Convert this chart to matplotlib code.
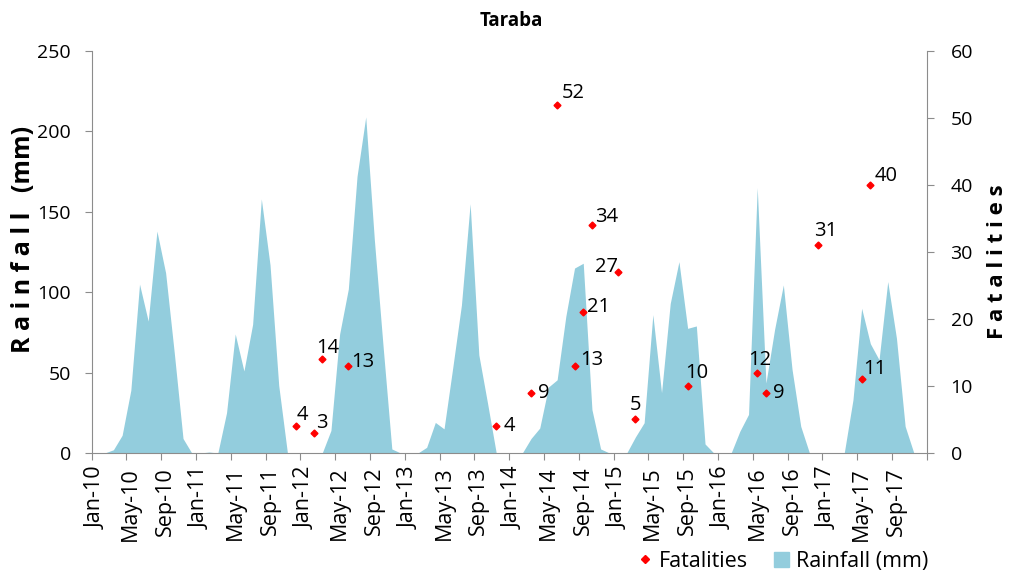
import matplotlib
matplotlib.use("Agg")
import matplotlib.pyplot as plt
from matplotlib.lines import Line2D
from matplotlib.patches import Patch
import numpy as np

plt.rcParams['font.family'] = ['Open Sans', 'DejaVu Sans']

# Monthly rainfall (mm), Jan-10 .. Dec-17
rain_2010 = [0, 0, 2, 11, 39, 105, 82, 138, 112, 62, 9, 0]
rain_2011 = [0, 0.6, 0, 25, 74, 51, 80, 158, 117, 42, 0, 0]
rain_2012 = [0, 0, 0, 14, 74, 102, 172, 209, 132, 66, 2.5, 0]
rain_2013 = [0, 0, 3.5, 19, 15, 53, 92, 155, 61, 31, 0, 0]
rain_2014 = [0, 0, 9, 15.5, 41, 45.5, 85, 115, 118, 27, 2.5, 0]
rain_2015 = [0, 0, 10, 18.8, 86, 37.5, 93, 119, 77.5, 79, 5.6, 0]
rain_2016 = [0, 0, 13.5, 24, 165, 43.5, 77, 104.5, 52, 16.6, 0, 0]
rain_2017 = [0, 0, 0, 33, 90, 68, 58, 106.6, 71.4, 16.6, 0, 0]
rainfall = rain_2010 + rain_2011 + rain_2012 + rain_2013 + rain_2014 + rain_2015 + rain_2016 + rain_2017

# Fatalities: month index (0 = Jan-10) and count
fat_month = [23, 25, 26, 29, 46, 50, 53, 55, 56, 57, 60, 62, 68, 76, 77, 83, 88, 89]
fatalities = [4, 3, 14, 13, 4, 9, 52, 13, 21, 34, 27, 5, 10, 12, 9, 31, 11, 40]

month_names = ['Jan', 'Feb', 'Mar', 'Apr', 'May', 'Jun', 'Jul', 'Aug', 'Sep', 'Oct', 'Nov', 'Dec']
years = ['10', '11', '12', '13', '14', '15', '16', '17']

# label offsets in points (dx, dy, ha, va) - layout only
label_pos = [(0, 1, 'left', 'bottom'), (2, 0, 'left', 'bottom'), (4, 1, 'center', 'bottom'),
             (2, 3, 'left', 'center'), (5, 0, 'left', 'center'), (5, 0, 'left', 'center'),
             (3, 1, 'left', 'bottom'), (4, 4, 'left', 'center'), (3, 4, 'left', 'center'),
             (2, -1, 'left', 'bottom'), (0, 4, 'right', 'center'), (0, 3, 'center', 'bottom'),
             (-2, 2, 'left', 'bottom'), (2, 2, 'center', 'bottom'), (5, 0, 'left', 'center'),
             (-3, 3, 'left', 'bottom'), (1, 0, 'left', 'bottom'), (3, -1, 'left', 'bottom')]

n = len(rainfall)
x = np.arange(n) + 0.5
axis_col = '#8c8c8c'
blue = '#93CDDD'

fig = plt.figure(figsize=(10.13, 5.71), dpi=100)
ax = fig.add_axes([0.0905, 0.2067, 0.8245, 0.704])
ax.fill_between(x, rainfall, color=blue, lw=0)
ax.set_xlim(0, n)
ax.set_ylim(0, 250)
ax.set_yticks(range(0, 251, 50))

# major ticks at month boundaries, labels centred on the month
ax.set_xticks(range(0, n + 1, 4))
ax.set_xticklabels([])
lab_idx = list(range(0, n, 4))
ax.set_xticks([i + 0.5 for i in lab_idx], minor=True)
ax.set_xticklabels([month_names[i % 12] + '-' + years[i // 12] for i in lab_idx],
                   minor=True, rotation=90, fontsize=15.5)
ax.tick_params(axis='x', which='minor', length=0, pad=10)
ax.tick_params(axis='x', which='major', length=5, color=axis_col, direction='out')
ax.tick_params(axis='y', length=5, color=axis_col, labelsize=14, pad=10)

for s in ['top', 'right']:
    ax.spines[s].set_visible(False)
for s in ['left', 'bottom']:
    ax.spines[s].set_color(axis_col)

ax2 = ax.twinx()
ax2.set_ylim(0, 60)
ax2.set_yticks(range(0, 61, 10))
ax2.tick_params(axis='y', length=5, color=axis_col, labelsize=14, pad=12)
for s in ['top', 'left', 'bottom']:
    ax2.spines[s].set_visible(False)
ax2.spines['right'].set_color(axis_col)

fx = [m + 0.5 for m in fat_month]
ax2.plot(fx, fatalities, 'D', color='red', markersize=3.5, linestyle='none')
for xi, v, (dx, dy, ha, va) in zip(fx, fatalities, label_pos):
    ax2.annotate(str(v), (xi, v), xytext=(dx, dy), textcoords='offset points',
                 ha=ha, va=va, fontsize=14.5)

fig.text(0.505, 0.963, 'Taraba', ha='center', va='center', fontsize=13.5, fontweight='bold')
fig.text(0.023, 0.58, 'R a i n f a l l   (mm)', rotation=90, ha='center', va='center',
         fontsize=18, fontweight='bold')
fig.text(0.985, 0.541, 'F a t a l i t i e s', rotation=90, ha='center', va='center',
         fontsize=16, fontweight='bold')

handles = [Line2D([], [], marker='D', color='red', linestyle='none', markersize=4.5),
           Patch(color=blue)]
fig.legend(handles, ['Fatalities', 'Rainfall (mm)'], loc='lower right',
           bbox_to_anchor=(0.935, -0.035), ncol=2, frameon=False, fontsize=15.5,
           handlelength=0.7, handletextpad=0.3, columnspacing=1.2)

fig.savefig('out.png', dpi=100)
